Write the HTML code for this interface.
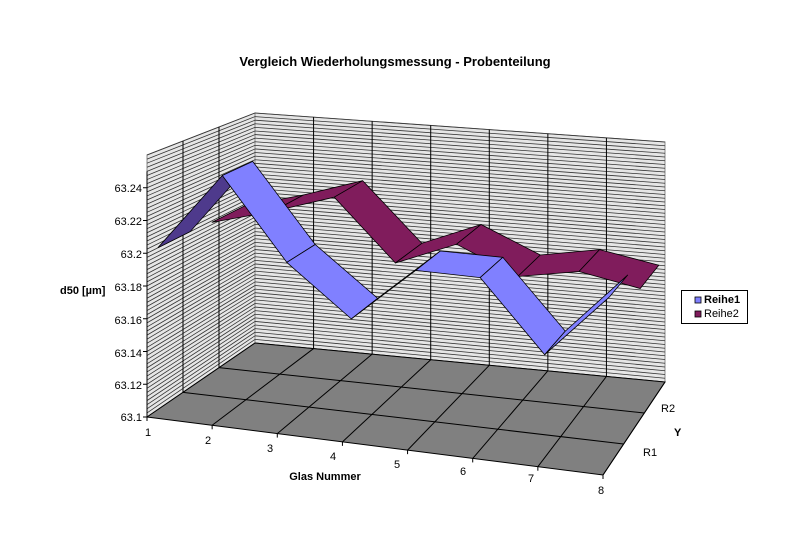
<!DOCTYPE html>
<html><head><meta charset="utf-8"><style>
html,body{margin:0;padding:0;background:#fff;}
svg{display:block;font-family:"Liberation Sans",Arial,sans-serif;}
</style></head><body>
<svg id="s" width="800" height="549" viewBox="0 0 800 549" xmlns="http://www.w3.org/2000/svg">
<rect width="800" height="549" fill="#fff"/>
<g id="g"></g>
<text x="395" y="66" text-anchor="middle" font-size="13" font-weight="bold">Vergleich Wiederholungsmessung - Probenteilung</text>
<text x="60" y="294" font-size="11" font-weight="bold">d50 [µm]</text>
<g font-size="11" text-anchor="end">
<text x="142" y="192">63.24</text><text x="142" y="225">63.22</text><text x="142" y="258">63.2</text>
<text x="142" y="291">63.18</text><text x="142" y="324">63.16</text><text x="142" y="357">63.14</text>
<text x="142" y="389">63.12</text><text x="142" y="421">63.1</text>
</g>
<g font-size="11" text-anchor="middle">
<text x="148" y="436">1</text><text x="208" y="444">2</text><text x="270" y="452">3</text><text x="333" y="460">4</text>
<text x="397" y="468">5</text><text x="463" y="475">6</text><text x="531" y="482">7</text><text x="601" y="494">8</text>
</g>
<text x="325" y="480" font-size="11" font-weight="bold" text-anchor="middle">Glas Nummer</text>
<text x="661" y="412" font-size="11">R2</text>
<text x="643" y="456" font-size="11">R1</text>
<text x="674" y="436" font-size="11" font-weight="bold">Y</text>
<rect x="681.5" y="290.5" width="66" height="33" fill="#fff" stroke="#000"/>
<rect x="695" y="297" width="6" height="6" fill="#8080ff" stroke="#000" stroke-width="0.8"/>
<text x="704" y="303" font-size="11" font-weight="bold">Reihe1</text>
<rect x="695" y="311" width="6" height="6" fill="#801c5c" stroke="#000" stroke-width="0.8"/>
<text x="704" y="317" font-size="11">Reihe2</text>
</svg>
<script>
var g=document.getElementById('g'),NS="http://www.w3.org/2000/svg";
var F0=[147,417],F1=[603,475],B0=[255,343],B1=[665,382];
var H=[262,270,230,240];
function P(t,d,v){
 var a=(1-t)*(1-d),b=t*(1-d),c=(1-t)*d,e=t*d;
 var x=F0[0]*a+F1[0]*b+B0[0]*c+B1[0]*e;
 var y=F0[1]*a+F1[1]*b+B0[1]*c+B1[1]*e;
 var h=H[0]*a+H[1]*b+H[2]*c+H[3]*e;
 return [x,y-h*(v-63.1)/0.16];
}
function poly(pts,fill,stroke,sw){var p=document.createElementNS(NS,'polygon');
 p.setAttribute('points',pts.map(function(q){return q[0].toFixed(1)+','+q[1].toFixed(1)}).join(' '));
 p.setAttribute('fill',fill);p.setAttribute('stroke',stroke||'none');p.setAttribute('stroke-width',sw||1);g.appendChild(p);}
function line(a,b,c,w){var l=document.createElementNS(NS,'line');l.setAttribute('x1',a[0]);l.setAttribute('y1',a[1]);l.setAttribute('x2',b[0]);l.setAttribute('y2',b[1]);l.setAttribute('stroke',c);l.setAttribute('stroke-width',w||1);g.appendChild(l);}
var TOP=63.26;
// walls
poly([P(0,0,63.1),P(0,0,TOP),P(0,1,TOP),P(0,1,63.1)],'#e6e6e6','#888');
poly([P(0,1,63.1),P(0,1,TOP),P(1,1,TOP),P(1,1,63.1)],'#e6e6e6','#888');
for(var v=63.1;v<=TOP+1e-6;v+=0.0025){
 line(P(0,0,v),P(0,1,v),'#333',0.8);line(P(0,1,v),P(1,1,v),'#333',0.8);
}
for(var k=1;k<3;k++){line(P(0,k/3,63.1),P(0,k/3,TOP),'#000',1);}
for(var k=1;k<7;k++){line(P(k/7,1,63.1),P(k/7,1,TOP),'#000',1);}
// floor
poly([P(0,0,63.1),P(1,0,63.1),P(1,1,63.1),P(0,1,63.1)],'#808080','#000');
for(var k=1;k<7;k++)line(P(k/7,0,63.1),P(k/7,1,63.1),'#000',1);
for(var k=1;k<3;k++)line(P(0,k/3,63.1),P(1,k/3,63.1),'#000',1);
// axis ticks
line(P(0,0,63.1),P(0,0,63.25),'#000',1);
for(var v=63.1;v<=63.2401;v+=0.02){var q=P(0,0,v);line([q[0]-4,q[1]],q,'#000',1);}
for(var k=0;k<8;k++){var q=P(k/7,0,63.1);line(q,[q[0],q[1]+4],'#000',1);}
line(P(1,0,63.1),P(1,1,63.1),'#000',1);
// series
function ribbon(vals,d0,d1,light,dark){
 for(var i=0;i<7;i++){
  var a=P(i/7,d0,vals[i]),b=P((i+1)/7,d0,vals[i+1]),c=P((i+1)/7,d1,vals[i+1]),e=P(i/7,d1,vals[i]);
  var area=0,pts=[a,b,c,e];for(var j=0;j<4;j++){var p=pts[j],n=pts[(j+1)%4];area+=p[0]*n[1]-n[0]*p[1];}
  poly(pts,area<0?light:dark,'#000',0.8);
 }
}
ribbon([63.199,63.21,63.223,63.184,63.2,63.183,63.19,63.183],0.6,0.9,'#801c5c','#6a1850');
ribbon([63.2,63.249,63.2,63.17,63.204,63.204,63.162,63.201],0.1,0.4,'#8080ff','#4e3a8c');
</script>
</body></html>
